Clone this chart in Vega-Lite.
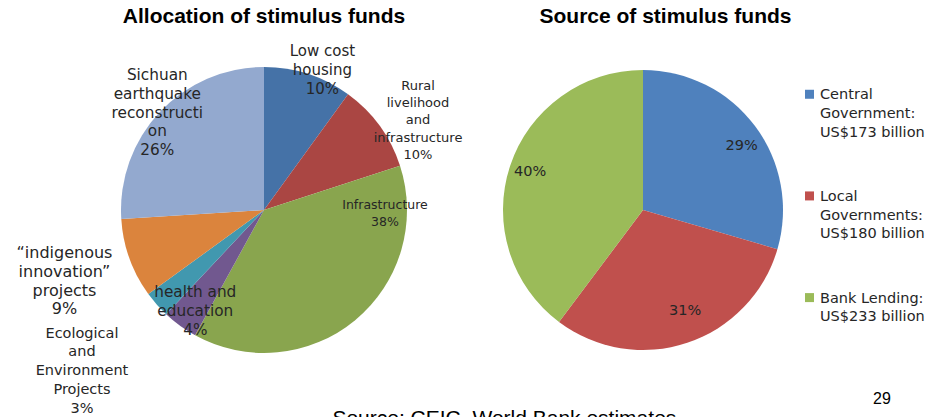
{
  "$schema": "https://vega.github.io/schema/vega-lite/v6.json",
  "background": "white",
  "padding": {"left": 0, "top": 6, "right": 0, "bottom": 0},
  "autosize": {"type": "pad"},
  "bounds": "flush",
  "spacing": 0,
  "resolve": {"scale": {"color": "independent", "theta": "independent"}},
  "config": {"view": {"stroke": null}},
  "title": {"text": "Source: CEIC, World Bank estimates", "orient": "bottom", "anchor": "middle", "dx": 42, "offset": -7, "font": "Liberation Sans", "fontSize": 21, "fontWeight": "normal", "color": "black"},
  "datasets": {
    "alloc": [
      {"rank": 1, "cat": "Low cost housing", "pct": 10, "label": "Low cost\nhousing\n10%"},
      {"rank": 2, "cat": "Rural livelihood and infrastructure", "pct": 10, "label": "Rural\nlivelihood\nand\ninfrastructure\n10%"},
      {"rank": 3, "cat": "Infrastructure", "pct": 38, "label": "Infrastructure\n38%"},
      {"rank": 4, "cat": "health and education", "pct": 4, "label": "health and\neducation\n4%"},
      {"rank": 5, "cat": "Ecological and Environment Projects", "pct": 3, "label": "Ecological\nand\nEnvironment\nProjects\n3%"},
      {"rank": 6, "cat": "“indigenous innovation” projects", "pct": 9, "label": "“indigenous\ninnovation”\nprojects\n9%"},
      {"rank": 7, "cat": "Sichuan earthquake reconstruction", "pct": 26, "label": "Sichuan\nearthquake\nreconstructi\non\n26%"}
    ],
    "source": [
      {"rank": 1, "cat": "Central Government", "amount": 173, "pct": "29%", "legend": "Central\nGovernment:\nUS$173 billion"},
      {"rank": 2, "cat": "Local Governments", "amount": 180, "pct": "31%", "legend": "Local\nGovernments:\nUS$180 billion"},
      {"rank": 3, "cat": "Bank Lending", "amount": 233, "pct": "40%", "legend": "Bank Lending:\nUS$233 billion"}
    ]
  },
  "hconcat": [
    {
      "width": 528,
      "height": 300,
      "title": {"text": "Allocation of stimulus funds", "anchor": "middle", "frame": "group", "offset": -12, "font": "Liberation Sans", "fontSize": 21, "fontWeight": "bold", "color": "black"},
      "data": {"name": "alloc"},
      "encoding": {
        "theta": {"field": "pct", "type": "quantitative", "stack": true},
        "order": {"field": "rank", "type": "quantitative"},
        "color": {"field": "cat", "type": "nominal", "legend": null,
          "scale": {"domain": ["Low cost housing", "Rural livelihood and infrastructure", "Infrastructure", "health and education", "Ecological and Environment Projects", "“indigenous innovation” projects", "Sichuan earthquake reconstruction"],
                    "range": ["#4572A7", "#AA4643", "#89A54E", "#71588F", "#4198AF", "#DB843D", "#93A9CF"]}}
      },
      "layer": [
        {"mark": {"type": "arc", "radius": 143}},
        {"mark": {"type": "text", "radius": 147, "dx": 13, "dy": -19, "font": "DejaVu Sans", "fontSize": 15, "lineHeight": 19, "lineBreak": "\n", "align": "center", "baseline": "middle"},
         "encoding": {"color": {"value": "#262626"}, "detail": {"field": "cat"}, "text": {"condition": {"test": "datum.rank === 1", "field": "label"}, "value": ""}}},
        {"mark": {"type": "text", "radius": 178, "dx": 10, "dy": -19.6, "font": "DejaVu Sans", "fontSize": 13, "lineHeight": 17.3, "lineBreak": "\n", "align": "center", "baseline": "middle"},
         "encoding": {"color": {"value": "#262626"}, "detail": {"field": "cat"}, "text": {"condition": {"test": "datum.rank === 2", "field": "label"}, "value": ""}}},
        {"mark": {"type": "text", "radius": 80, "dx": 70, "dy": -66.5, "font": "DejaVu Sans", "fontSize": 12.5, "lineHeight": 17, "lineBreak": "\n", "align": "center", "baseline": "middle"},
         "encoding": {"color": {"value": "#262626"}, "detail": {"field": "cat"}, "text": {"condition": {"test": "datum.rank === 3", "field": "label"}, "value": ""}}},
        {"mark": {"type": "text", "radius": 122, "dx": 3, "dy": -17, "font": "DejaVu Sans", "fontSize": 15.3, "lineHeight": 19, "lineBreak": "\n", "align": "center", "baseline": "middle"},
         "encoding": {"color": {"value": "#262626"}, "detail": {"field": "cat"}, "text": {"condition": {"test": "datum.rank === 4", "field": "label"}, "value": ""}}},
        {"mark": {"type": "text", "radius": 150, "dx": -69.5, "dy": 24.6, "font": "DejaVu Sans", "fontSize": 14.5, "lineHeight": 18.7, "lineBreak": "\n", "align": "center", "baseline": "middle"},
         "encoding": {"color": {"value": "#262626"}, "detail": {"field": "cat"}, "text": {"condition": {"test": "datum.rank === 5", "field": "label"}, "value": ""}}},
        {"mark": {"type": "text", "radius": 150, "dx": -58.4, "dy": -7.5, "font": "DejaVu Sans", "fontSize": 16, "lineHeight": 18.7, "lineBreak": "\n", "align": "center", "baseline": "middle"},
         "encoding": {"color": {"value": "#262626"}, "detail": {"field": "cat"}, "text": {"condition": {"test": "datum.rank === 6", "field": "label"}, "value": ""}}},
        {"mark": {"type": "text", "radius": 145, "dx": -1, "dy": -35.5, "font": "DejaVu Sans", "fontSize": 15.3, "lineHeight": 18.75, "lineBreak": "\n", "align": "center", "baseline": "middle"},
         "encoding": {"color": {"value": "#262626"}, "detail": {"field": "cat"}, "text": {"condition": {"test": "datum.rank === 7", "field": "label"}, "value": ""}}}
      ]
    },
    {
      "width": 230,
      "height": 300,
      "title": {"text": "Source of stimulus funds", "anchor": "middle", "frame": "group", "dx": 22.5, "offset": 33, "font": "Liberation Sans", "fontSize": 21, "fontWeight": "bold", "color": "black"},
      "data": {"name": "source"},
      "encoding": {
        "theta": {"field": "amount", "type": "quantitative", "stack": true},
        "order": {"field": "rank", "type": "quantitative"},
        "color": {"field": "cat", "type": "nominal", "legend": null,
          "scale": {"domain": ["Central Government", "Local Governments", "Bank Lending"], "range": ["#4F81BD", "#C0504D", "#9BBB59"]}}
      },
      "layer": [
        {"mark": {"type": "arc", "radius": 140}},
        {"mark": {"type": "text", "radius": 117, "dx": 5, "dy": 6, "font": "DejaVu Sans", "fontSize": 14.5, "align": "center", "baseline": "middle"},
         "encoding": {"color": {"value": "#262626"}, "detail": {"field": "cat"}, "text": {"condition": {"test": "datum.rank === 1", "field": "pct"}, "value": ""}}},
        {"mark": {"type": "text", "radius": 108, "dx": 8, "dy": -1.5, "font": "DejaVu Sans", "fontSize": 14.5, "align": "center", "baseline": "middle"},
         "encoding": {"color": {"value": "#262626"}, "detail": {"field": "cat"}, "text": {"condition": {"test": "datum.rank === 2", "field": "pct"}, "value": ""}}},
        {"mark": {"type": "text", "radius": 119, "font": "DejaVu Sans", "fontSize": 14.5, "align": "center", "baseline": "middle"},
         "encoding": {"color": {"value": "#262626"}, "detail": {"field": "cat"}, "text": {"condition": {"test": "datum.rank === 3", "field": "pct"}, "value": ""}}}
      ]
    },
    {
      "width": 103,
      "height": 305,
      "title": {"text": "29", "orient": "bottom", "anchor": "middle", "frame": "group", "dx": 72.5, "offset": 26, "font": "Liberation Sans", "fontSize": 16, "fontWeight": "normal", "color": "black"},
      "data": {"name": "source"},
      "encoding": {
        "y": {"field": "cat", "type": "nominal", "sort": {"field": "rank"}, "axis": null, "bandPosition": 0.337,
              "scale": {"type": "band", "paddingInner": 0, "paddingOuter": 0}}
      },
      "layer": [
        {"mark": {"type": "point", "shape": "square", "filled": true, "size": 81, "opacity": 1},
         "encoding": {"color": {"field": "cat", "type": "nominal", "legend": null,
           "scale": {"domain": ["Central Government", "Local Governments", "Bank Lending"], "range": ["#4F81BD", "#C0504D", "#9BBB59"]}}}},
        {"mark": {"type": "text", "dx": 10.5, "dy": 5, "font": "DejaVu Sans", "fontSize": 14.5, "lineHeight": 18.7, "lineBreak": "\n", "align": "left", "baseline": "alphabetic", "color": "#262626"},
         "encoding": {"text": {"field": "legend"}}}
      ]
    }
  ]
}
